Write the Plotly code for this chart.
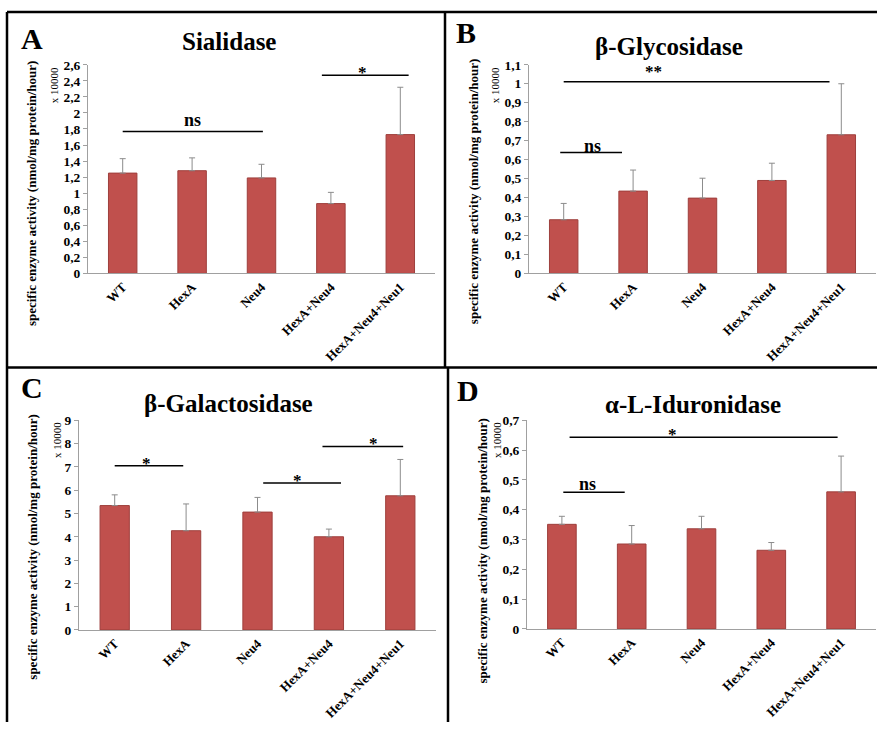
import plotly.graph_objects as go

W, H = 877, 730

categories = ["WT", "HexA", "Neu4", "HexA+Neu4", "HexA+Neu4+Neu1"]

sialidase_mean = [1.25, 1.28, 1.19, 0.87, 1.73]
sialidase_upper = [1.43, 1.44, 1.36, 1.01, 2.32]
glycosidase_mean = [0.283, 0.434, 0.397, 0.49, 0.731]
glycosidase_upper = [0.369, 0.545, 0.502, 0.581, 1.0]
galactosidase_mean = [5.34, 4.26, 5.06, 4.0, 5.76]
galactosidase_upper = [5.80, 5.41, 5.69, 4.33, 7.32]
iduronidase_mean = [0.351, 0.285, 0.336, 0.264, 0.46]
iduronidase_upper = [0.378, 0.347, 0.378, 0.29, 0.58]

# significance brackets: (x0, x1, y, label, label_x, label_y)
sig_A = [(0, 2.02, 1.77, "ns", 1.0, 1.94), (2.87, 4.12, 2.47, "*", 3.45, 2.55)]
sig_B = [(0, 3.83, 1.01, "**", 1.3, 1.086), (-0.05, 0.84, 0.638, "ns", 0.42, 0.684)]
sig_C = [(0, 0.96, 7.05, "*", 0.44, 7.32), (2.08, 3.17, 6.31, "*", 2.56, 6.6),
         (2.91, 4.04, 7.88, "*", 3.62, 8.19)]
sig_D = [(0.11, 3.95, 0.643, "*", 1.59, 0.667), (0.02, 0.90, 0.459, "ns", 0.37, 0.492)]


def px(x):
    return x / W


def py(y):
    return 1 - y / H


panels = [
    dict(letter="A", title="Sialidase", mean=sialidase_mean, upper=sialidase_upper,
         ymax=2.6, dtick=0.2, xd=(88, 435), yd=(272, 59), sig=sig_A,
         letter_pos=(32, 32), title_pos=(229, 35), ytitle_pos=(31, 190), mult_pos=(54, 80)),
    dict(letter="B", title="β-Glycosidase", mean=glycosidase_mean, upper=glycosidase_upper,
         ymax=1.1, dtick=0.1, xd=(529, 876), yd=(272, 59), sig=sig_B,
         letter_pos=(466, 26), title_pos=(669, 40), ytitle_pos=(473, 188), mult_pos=(495, 80)),
    dict(letter="C", title="β-Galactosidase", mean=galactosidase_mean, upper=galactosidase_upper,
         ymax=9, dtick=1, xd=(79, 436), yd=(636, 422), sig=sig_C,
         letter_pos=(32, 388), title_pos=(228, 405), ytitle_pos=(33, 551), mult_pos=(57, 442)),
    dict(letter="D", title="α-L-Iduronidase", mean=iduronidase_mean, upper=iduronidase_upper,
         ymax=0.7, dtick=0.1, xd=(527, 876), yd=(635, 422), sig=sig_D,
         letter_pos=(468, 392), title_pos=(693, 406), ytitle_pos=(483, 555), mult_pos=(497, 442)),
]

SERIF = "Liberation Serif"
BAR = "#C0504D"
AXIS = "#A0A0A0"

fig = go.Figure()
annotations = []
shapes = []
layout_axes = {}

for i, p in enumerate(panels, start=1):
    xa = "x" if i == 1 else f"x{i}"
    ya = "y" if i == 1 else f"y{i}"
    plus = [u - m for u, m in zip(p["upper"], p["mean"])]
    fig.add_trace(go.Bar(
        x=list(range(len(categories))), y=p["mean"], xaxis=xa, yaxis=ya,
        width=0.41,
        marker=dict(color=BAR, line=dict(color="#9E3F3C", width=1)),
        error_y=dict(type="data", symmetric=False, array=plus, arrayminus=[0] * len(plus),
                     color="#8C8C8C", thickness=1, width=3),
        showlegend=False, hoverinfo="skip",
    ))
    xkey = "xaxis" if i == 1 else f"xaxis{i}"
    ykey = "yaxis" if i == 1 else f"yaxis{i}"
    layout_axes[xkey] = dict(
        domain=[px(p["xd"][0]), px(p["xd"][1])], anchor=ya,
        range=[-0.5, 4.5], tickvals=list(range(len(categories))), ticktext=categories,
        tickangle=-45, showline=True, linecolor=AXIS, linewidth=1,
        ticks="", showgrid=False, zeroline=False, fixedrange=True,
        tickfont=dict(family=SERIF, size=13, color="#000", weight="bold"),
    )
    layout_axes[ykey] = dict(
        domain=[py(p["yd"][0]), py(p["yd"][1])], anchor=xa,
        range=[0, p["ymax"]], dtick=p["dtick"], tick0=0,
        showline=True, linecolor=AXIS, linewidth=1,
        ticks="outside", ticklen=4, tickcolor=AXIS, tickwidth=1,
        showgrid=False, zeroline=False, fixedrange=True,
        tickfont=dict(family=SERIF, size=13.5, color="#000", weight="bold"),
    )
    # significance brackets
    for (x0, x1, yv, lab, lx, ly) in p["sig"]:
        shapes.append(dict(type="line", xref=xa, yref=ya, x0=x0, x1=x1, y0=yv, y1=yv,
                           line=dict(color="#000", width=1.5)))
        if lab == "ns":
            annotations.append(dict(xref=xa, yref=ya, x=lx, y=ly, text="<b>ns</b>",
                                    showarrow=False, yshift=-2,
                                    font=dict(family=SERIF, size=18, color="#000")))
        else:
            annotations.append(dict(xref=xa, yref=ya, x=lx, y=ly, text=f"<b>{lab}</b>",
                                    showarrow=False, yshift=-4,
                                    font=dict(family=SERIF, size=17, color="#000")))
    # panel letter
    annotations.append(dict(xref="paper", yref="paper", x=px(p["letter_pos"][0]),
                            y=py(p["letter_pos"][1]), text=f"<b>{p['letter']}</b>",
                            showarrow=False, xanchor="center", yanchor="middle",
                            font=dict(family=SERIF, size=30, color="#000")))
    # title
    annotations.append(dict(xref="paper", yref="paper", x=px(p["title_pos"][0]),
                            y=py(p["title_pos"][1]), text=f"<b>{p['title']}</b>",
                            showarrow=False, xanchor="center", yanchor="middle",
                            font=dict(family=SERIF, size=25, color="#000")))
    # y title
    annotations.append(dict(xref="paper", yref="paper", x=px(p["ytitle_pos"][0]),
                            y=py(p["ytitle_pos"][1]),
                            text="<b>specific enzyme activity (nmol/mg protein/hour)</b>",
                            showarrow=False, textangle=-90, xanchor="center", yanchor="middle",
                            font=dict(family=SERIF, size=13, color="#000")))
    # multiplier
    annotations.append(dict(xref="paper", yref="paper", x=px(p["mult_pos"][0]),
                            y=py(p["mult_pos"][1]), text="x 10000",
                            showarrow=False, textangle=-90, xanchor="center", yanchor="middle",
                            font=dict(family=SERIF, size=11, color="#000")))

# panel frame lines
frame = [
    (7, 5, 877, 5),      # top
    (7, 5, 7, 730),      # left
    (7, 368, 877, 368),  # middle horizontal
    (445, 5, 445, 368),  # vertical divider top
    (448, 368, 448, 730),  # vertical divider bottom
]
for (x0, y0, x1, y1) in frame:
    shapes.append(dict(type="line", xref="paper", yref="paper",
                       x0=px(x0), y0=py(y0), x1=px(x1), y1=py(y1),
                       line=dict(color="#000", width=2.5)))

fig.update_layout(
    width=W, height=H, margin=dict(l=0, r=0, t=0, b=0),
    paper_bgcolor="white", plot_bgcolor="white",
    separators=", ",
    annotations=annotations, shapes=shapes,
    bargap=0.6,
    **layout_axes,
)

fig.write_html(
    "out.html",
    config={"displayModeBar": False},
    post_script="document.body.style.margin='0';document.body.style.padding='0';"
                "document.body.style.overflow='hidden';",
)
